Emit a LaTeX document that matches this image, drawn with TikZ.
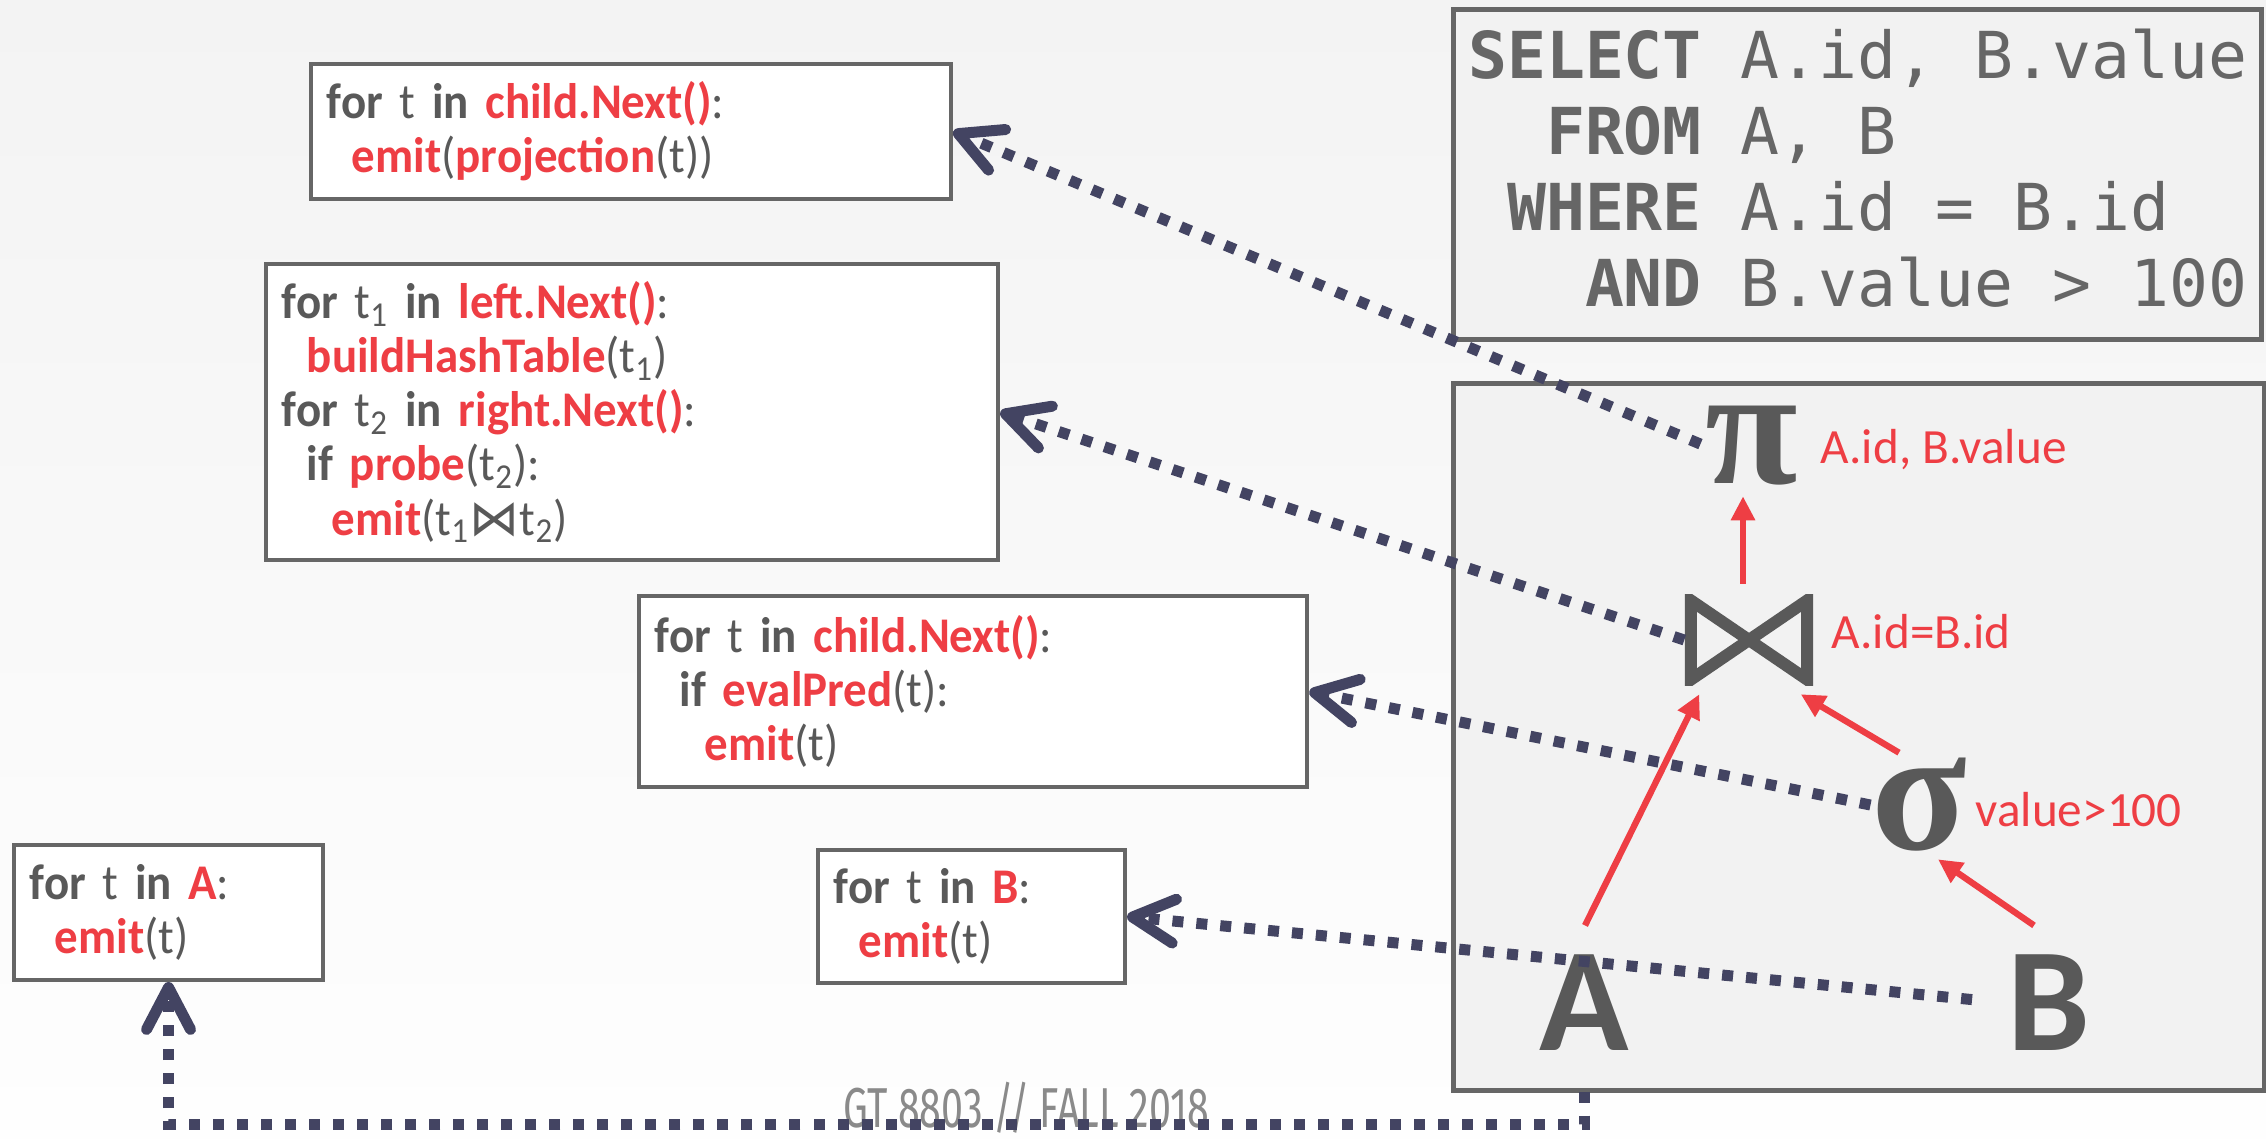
\documentclass[tikz,border=0pt]{standalone}
\usepackage{fontspec}
\usepackage{graphicx}
\setmainfont{Carlito}
\newfontfamily\codefont{Carlito}[FakeStretch=0.94]
\newfontfamily\sqlfont{DejaVu Sans Mono}
\newfontfamily\opfont{Liberation Serif}
\newfontfamily\symfont{DejaVu Sans}
\newfontfamily\footfont{Fira Sans}
\usepackage{tikz}
\usetikzlibrary{arrows.meta,positioning,calc}
\definecolor{ink}{RGB}{89,89,89}
\definecolor{sqlink}{RGB}{102,102,102}
\definecolor{accent}{RGB}{238,62,68}
\definecolor{navy}{RGB}{67,68,98}
\definecolor{frame}{RGB}{102,102,102}
\definecolor{panel}{RGB}{242,242,242}
\definecolor{footgray}{RGB}{138,138,138}
\definecolor{bgtop}{RGB}{243,243,243}
\definecolor{bgbot}{RGB}{254,254,254}
\newcommand{\kw}[1]{\textbf{#1}}
\newcommand{\fn}[1]{\textcolor{accent}{\textbf{#1}}}
\newcommand{\tsub}[1]{\textsubscript{#1}}
\tikzset{
  codebox/.style={draw=frame,line width=1.1pt,fill=white,anchor=north west,
    align=left,inner xsep=0.16cm,inner ysep=0pt,text=ink,
    font=\codefont\fontsize{14.2}{15.4}\selectfont},
  panelbox/.style={draw=frame,line width=1.4pt,fill=panel,anchor=north west,
    inner sep=0pt},
  op/.style={text=ink,inner sep=0pt},
  oplabel/.style={text=accent,anchor=base west,inner sep=0pt,
    font=\fontsize{14}{16}\selectfont},
  dataflow/.style={draw=accent,line width=1.8pt,
    -{Triangle[length=0.24cm,width=0.23cm]}},
  call/.style={draw=navy,line width=0.11cm,dash pattern=on 0.11cm off 0.13cm,
    -{Straight Barb[length=0.42cm,width=0.44cm,line width=0.11cm,round]}}}

\begin{document}
\begin{tikzpicture}[x=0.01cm,y=-0.01cm]
  \useasboundingbox (0,0) rectangle (2266,1138);
  \shade[top color=bgtop,bottom color=bgbot] (0,0) rectangle (2266,1138);

  % query and plan panels
  \node[panelbox,minimum width=8.08cm,minimum height=3.30cm,text=sqlink,
    text depth=0.14cm,align=left,
    font=\sqlfont\fontsize{18.4}{21.6}\selectfont] (query) at (1451,7)
    {{\bfseries SELECT} A.id, B.value\\
     \phantom{SE}{\bfseries FROM} A, B\\
     \phantom{S}{\bfseries WHERE} A.id = B.id\\
     \phantom{SEL}{\bfseries AND} B.value > 100};
  \node[panelbox,minimum width=8.11cm,minimum height=7.07cm] (plan) at (1451,381) {};

  % operator code
  \node[codebox,text width=6.08cm,minimum height=1.35cm] (proj) at (309,62)
    {\kw{for} t \kw{in} \fn{child.Next()}:\\
     \hspace*{0.5em}\fn{emit}(\fn{projection}(t))};
  \node[codebox,text width=7.0cm,minimum height=2.96cm] (hashjoin) at (264,262)
    {\kw{for} t\tsub{1} \kw{in} \fn{left.Next()}:\\
     \hspace*{0.5em}\fn{buildHashTable}(t\tsub{1})\\
     \kw{for} t\tsub{2} \kw{in} \fn{right.Next()}:\\
     \hspace*{0.5em}\kw{if} \fn{probe}(t\tsub{2}):\\
     \hspace*{1em}\fn{emit}(t\tsub{1}{\symfont ⋈}t\tsub{2})};
  \node[codebox,text width=6.36cm,minimum height=1.91cm] (filter) at (637,594)
    {\kw{for} t \kw{in} \fn{child.Next()}:\\
     \hspace*{0.5em}\kw{if} \fn{evalPred}(t):\\
     \hspace*{1em}\fn{emit}(t)};
  \node[codebox,text width=2.77cm,minimum height=1.35cm] (scanA) at (12,843)
    {\kw{for} t \kw{in} \fn{A}:\\
     \hspace*{0.5em}\fn{emit}(t)};
  \node[codebox,text width=2.75cm,minimum height=1.33cm] (scanB) at (816,848)
    {\kw{for} t \kw{in} \fn{B}:\\
     \hspace*{0.5em}\fn{emit}(t)};

  % plan tree
  \node[op,font=\opfont\bfseries\fontsize{48}{48}\selectfont] (pi) at (1752,446) {π};
  \node[op,minimum width=1.28cm,minimum height=0.91cm,
    path picture={\draw[ink,line width=0.12cm]
      ([shift={(6,6)}]path picture bounding box.north west) --
      ([shift={(-6,-6)}]path picture bounding box.south east) --
      ([shift={(-6,6)}]path picture bounding box.north east) --
      ([shift={(6,-6)}]path picture bounding box.south west) -- cycle;}]
    (join) at (1749,640) {};
  \node[op,font=\opfont\bfseries\fontsize{50}{50}\selectfont] (sigma) at (1919,805) {σ};
  \node[op,font=\bfseries\fontsize{42}{42}\selectfont] (A) at (1584,1003) {A};
  \node[op,font=\bfseries\fontsize{42}{42}\selectfont] (B) at (2049,1003) {B};
  \node[oplabel] (pilbl) at (1820,463) {A.id, B.value};
  \node[oplabel] (joinlbl) at (1831,648) {A.id=B.id};
  \node[oplabel] (sigmalbl) at (1975,826) {value>100};

  \node[text=footgray,font=\footfont\fontsize{16}{17}\selectfont] (footer)
    at (1026,1108) {\scalebox{0.7}[1]{GT 8803 // FALL 2018}};

  % tuples flow up
  \draw[dataflow] ($(join.north)+(-6,-10)$) -- ($(pi.south)+(-9,10)$);
  \draw[dataflow] ($(A.north)+(1,-29)$) -- ($(join.south west)+(15,8)$);
  \draw[dataflow] ($(sigma.north)+(-20,-5)$) -- ($(join.south east)+(-13,8)$);
  \draw[dataflow] ($(B.north)+(-15,-29)$) -- ($(sigma.south)+(19,7)$);

  % each operator calls its code
  \draw[call,shorten <=0.05cm] (pi.west) -- (proj.east);
  \draw[call] (join.west) -- (hashjoin.east);
  \draw[call] (sigma.west) -- (filter.east);
  \draw[call,shorten <=0.35cm] (B.west) -- (scanB.east);
  \draw[call,shorten <=0.4cm] (A.south) -- ++(0,73) -| (scanA.south);
\end{tikzpicture}
\end{document}
